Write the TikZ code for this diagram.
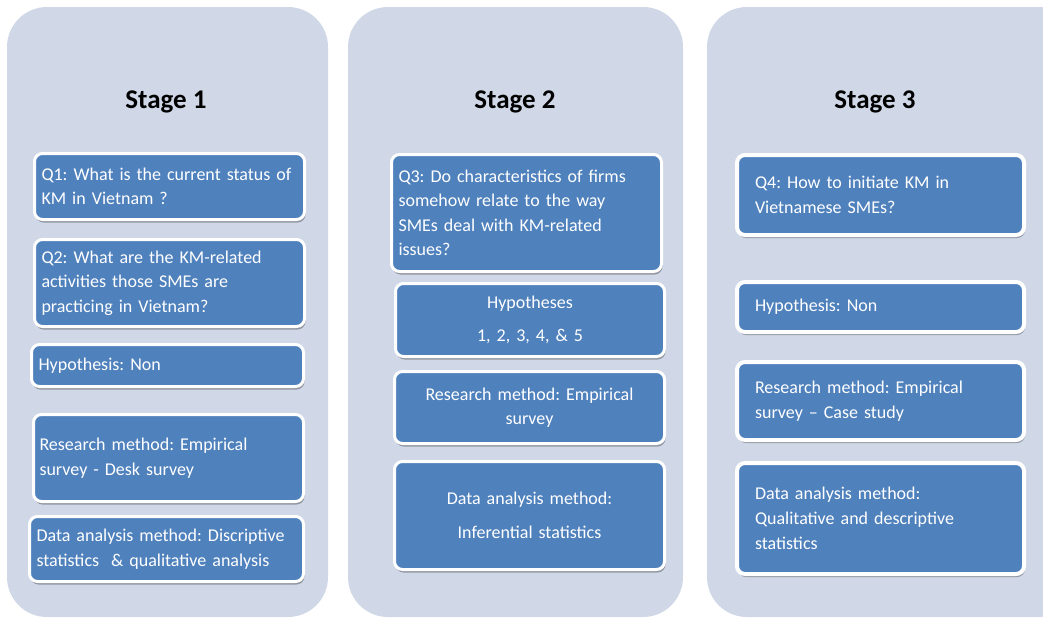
\documentclass[tikz,border=0pt]{standalone}
\usepackage{fontspec}
\setmainfont{Carlito}
\usetikzlibrary{shadows}
\definecolor{panelfill}{HTML}{D0D8E7}
\definecolor{boxfill}{HTML}{4F81BD}
\frenchspacing
\begin{document}
\begin{tikzpicture}[x=1pt,y=-1pt,
  panel/.style={fill=panelfill, draw=none, rounded corners=40pt},
  stagetitle/.style={font=\fontsize{27}{32}\selectfont\bfseries, text=black},
  box/.style={anchor=north west, fill=boxfill, draw=white, line width=3pt,
    rounded corners=8pt, text=white, inner ysep=0pt,
    font=\fontsize{18}{24.5}\selectfont\frenchspacing,
    drop shadow={shadow xshift=1pt, shadow yshift=-3pt, opacity=0.3, fill=black}},
  lbox/.style={box, align=left},
  cbox/.style={box, align=center}]
\useasboundingbox (0,0) rectangle (1043,619);
\clip (0,0) rectangle (1043,619);

% stage panels
\fill[white] (0,0) rectangle (1043,619);
\path[panel] (7,7) rectangle (328,617);
\path[panel] (348,7) rectangle (683,617);
\path[panel] (707,7) rectangle (1080,617);

% stage titles
\node[stagetitle] (t1) at (166,102) {Stage 1};
\node[stagetitle] (t2) at (515,102) {Stage 2};
\node[stagetitle] (t3) at (875,102) {Stage 3};

% stage 1
\node[lbox, inner xsep=7pt, text width=256pt, minimum height=66pt] (q1) at (33,152)
  {Q1: What is the current status of\\KM in Vietnam ?};
\node[lbox, inner xsep=7pt, text width=256pt, minimum height=87pt] (q2) at (33,238)
  {Q2: What are the KM-related\\activities those SMEs are\\practicing in Vietnam?};
\node[lbox, inner xsep=7pt, text width=258pt, minimum height=42pt] (h1) at (30,343)
  {Hypothesis: Non};
\node[lbox, inner xsep=6pt, text width=258pt, minimum height=87pt] (r1) at (32,413)
  {Research method: Empirical\\survey - Desk survey};
\node[lbox, inner xsep=7pt, text width=260pt, minimum height=65pt] (d1) at (28,515)
  {Data analysis method: Discriptive\\statistics~~\& qualitative analysis};

% stage 2
\node[lbox, inner xsep=7pt, text width=256pt, minimum height=117pt] (q3) at (390,153)
  {Q3: Do characteristics of firms\\somehow relate to the way\\SMEs deal with KM-related\\issues?};
\node[cbox, inner xsep=7pt, text width=255pt, minimum height=73pt] (hy) at (394,282)
  {Hypotheses\\[9pt]1, 2, 3, 4, \& 5};
\node[cbox, inner xsep=7pt, text width=256pt, minimum height=72pt] (r2) at (393,370)
  {Research method: Empirical\\survey};
\node[cbox, inner xsep=7pt, text width=256pt, minimum height=108pt] (d2) at (393,460)
  {Data analysis method:\\[10pt]Inferential statistics};

% stage 3
\node[lbox, line width=4pt, inner xsep=18pt, text width=251pt, minimum height=80pt] (q4) at (735,153)
  {Q4: How to initiate KM in\\Vietnamese SMEs?};
\node[lbox, line width=4pt, inner xsep=18pt, text width=251pt, minimum height=50pt] (h3) at (735,280)
  {Hypothesis: Non};
\node[lbox, line width=4pt, inner xsep=18pt, text width=251pt, minimum height=78pt] (r3) at (735,360)
  {Research method: Empirical\\survey -- Case study};
\node[lbox, line width=4pt, inner xsep=18pt, text width=251pt, minimum height=111pt] (d3) at (735,461)
  {Data analysis method:\\Qualitative and descriptive\\[1pt]statistics};
\end{tikzpicture}
\end{document}
